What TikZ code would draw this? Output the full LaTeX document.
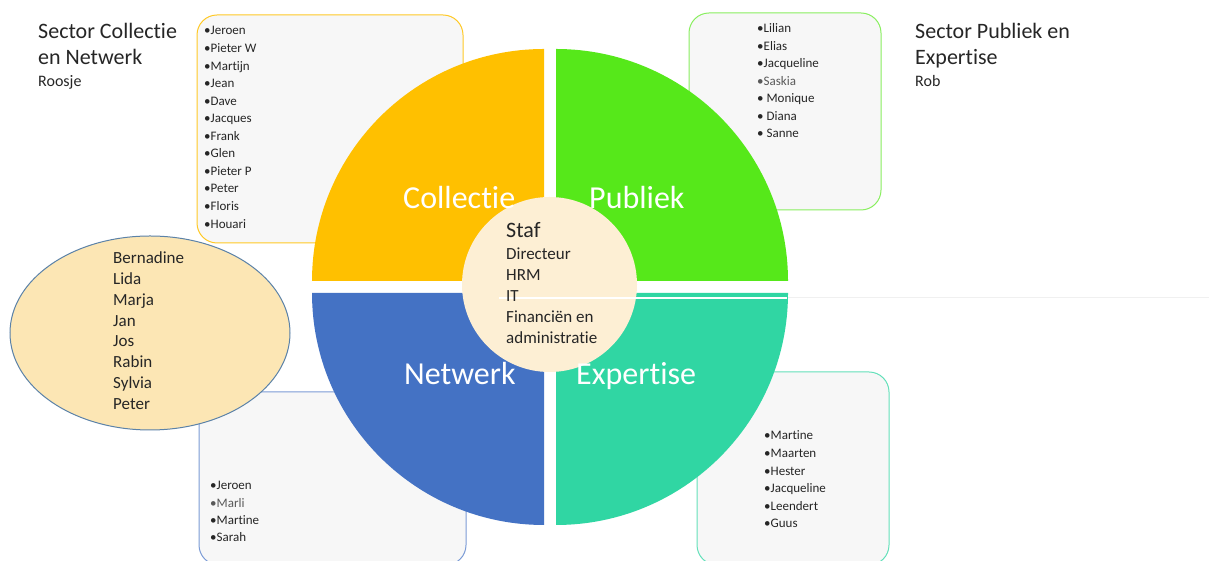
\documentclass[tikz,border=0pt]{standalone}
\usepackage{fontspec}
\usetikzlibrary{shapes.geometric}
\setmainfont{Carlito}[Ligatures=NoCommon]
\definecolor{colY}{HTML}{FFC000}
\definecolor{colG}{HTML}{56E81A}
\definecolor{colB}{HTML}{4472C4}
\definecolor{colT}{HTML}{30D6A3}
\definecolor{staffill}{HTML}{FDEFD4}
\definecolor{ellfill}{HTML}{FCE6B4}
\definecolor{ellline}{HTML}{5B82A8}
\definecolor{boxfill}{HTML}{F7F7F7}
\definecolor{txt}{HTML}{262626}
\definecolor{txtgray}{HTML}{595959}
\begin{document}
\begin{tikzpicture}[x=1pt,y=1pt,
  listbox/.style={fill=boxfill,rounded corners=20pt,line width=1pt},
  quad/.style={text=white,anchor=base west,inner sep=0pt,font=\fontsize{32}{36}\selectfont},
  li/.style={text=txt,anchor=base west,inner sep=0pt,font=\fontsize{13}{15}\selectfont},
  eli/.style={text=txt,anchor=base west,inner sep=0pt,font=\fontsize{17}{20}\selectfont},
  stf/.style={text=txt,anchor=base west,inner sep=0pt,font=\fontsize{17}{20}\selectfont},
  hdr/.style={text=txt,anchor=base west,inner sep=0pt,font=\fontsize{22}{26}\selectfont},
  sub/.style={text=txt,anchor=base west,inner sep=0pt,font=\fontsize{16}{19}\selectfont}]
\clip (0,0) rectangle (1209,561);
\useasboundingbox (0,0) rectangle (1209,561);
\fill[white] (0,0) rectangle (1209,561);
% list boxes
\draw[listbox,draw=colY!85] (197,318) rectangle (463,546);
\draw[listbox,draw=colG!70] (689,351) rectangle (881,548);
\draw[listbox,draw=colB!70] (199,-4) rectangle (466,169);
\draw[listbox,draw=colT!75] (697,-4) rectangle (889,189);
% ellipse
\node[draw=ellline,fill=ellfill,line width=1pt,ellipse,minimum width=280pt,minimum height=194pt,inner sep=0pt] (ell) at (150,228) {};
% faint line to the right
\draw[black!6,line width=1.2pt] (787,263.5) -- (1209,263.5);
% quadrants
\fill[colY] (544,280) -- (312,280) arc[start angle=180,end angle=90,radius=232] -- cycle;
\fill[colG] (556,280) -- (556,512) arc[start angle=90,end angle=0,radius=232] -- cycle;
\fill[colB] (544,268) -- (312,268) arc[start angle=180,end angle=270,radius=232] -- cycle;
\fill[colT] (556,268) -- (788,268) arc[start angle=0,end angle=-90,radius=232] -- cycle;
% staf circle
\fill[staffill] (549.5,276.5) circle[radius=87.5];
\draw[white,line width=1.5pt] (499,263) -- (787,263);
\node[quad] (qc) at (403,352) {Collectie};
\node[quad] (qp) at (589,352) {Publiek};
\node[quad] (qn) at (404,176) {Netwerk};
\node[quad] (qe) at (576,176) {Expertise};
\node[stf,font=\fontsize{22}{26}\selectfont] (staf) at (506,323) {Staf};
\foreach \t [count=\i from 0] in {Directeur,HRM,IT,Financiën en,administratie}
  \node[stf] (s\i) at (506,301.5-21*\i) {\t};
% headers
\node[hdr] (h1) at (38,522) {Sector Collectie};
\node[hdr] (h2) at (38,496) {en Netwerk};
\node[sub] (h3) at (38,474) {Roosje};
\node[hdr] (h4) at (915,522) {Sector Publiek en};
\node[hdr] (h5) at (915,496) {Expertise};
\node[sub] (h6) at (915,474) {Rob};
% lists
\foreach \t [count=\i from 0] in {•Jeroen,•Pieter W,•Martijn,•Jean,•Dave,•Jacques,•Frank,•Glen,•Pieter P,•Peter,•Floris,•Houari}
  \node[li] (tl\i) at (204,526-17.55*\i) {\t};
\foreach \t [count=\i from 0] in {•Lilian,•Elias,•Jacqueline,{\color{txtgray}•Saskia},• Monique,• Diana,• Sanne}
  \node[li] (tr\i) at (757,528-17.5*\i) {\t};
\foreach \t [count=\i from 0] in {•Jeroen,{\color{txtgray}•Marli},•Martine,•Sarah}
  \node[li] (bl\i) at (210,71-17.33*\i) {\t};
\foreach \t [count=\i from 0] in {•Martine,•Maarten,•Hester,•Jacqueline,•Leendert,•Guus}
  \node[li] (br\i) at (764,121-17.6*\i) {\t};
\foreach \t [count=\i from 0] in {Bernadine,Lida,Marja,Jan,Jos,Rabin,Sylvia,Peter}
  \node[eli] (e\i) at (113,297.5-20.86*\i) {\t};
\end{tikzpicture}
\end{document}
